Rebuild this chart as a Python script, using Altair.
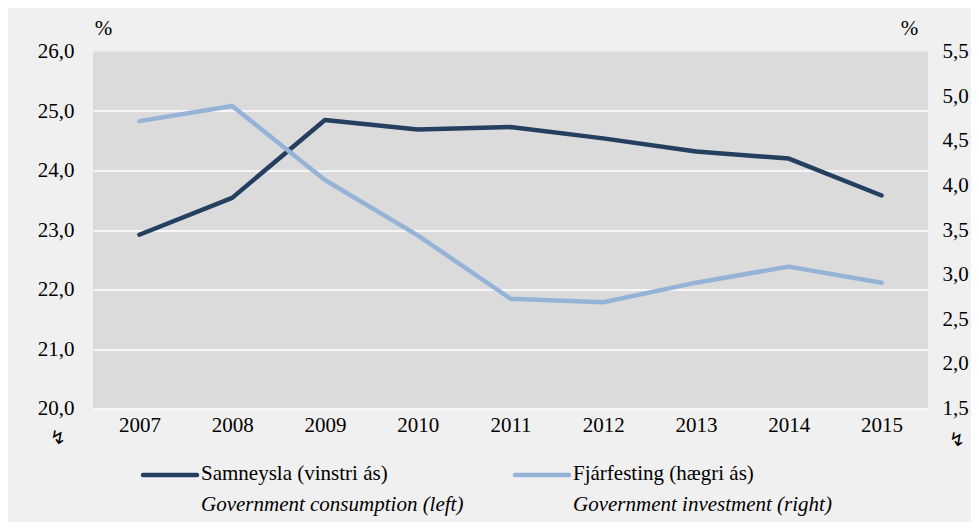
import altair as alt
import pandas as pd

years = ["2007", "2008", "2009", "2010", "2011", "2012", "2013", "2014", "2015"]
consumption = [22.92, 23.54, 24.85, 24.69, 24.73, 24.54, 24.32, 24.20, 23.58]
investment = [4.72, 4.89, 4.06, 3.44, 2.73, 2.69, 2.91, 3.09, 2.91]
left_ticks = [20, 21, 22, 23, 24, 25, 26]
right_ticks = [1.5, 2.0, 2.5, 3.0, 3.5, 4.0, 4.5, 5.0, 5.5]
legend_is = ["Samneysla (vinstri ás)", "Fjárfesting (hægri ás)"]
legend_en = ["Government consumption (left)", "Government investment (right)"]

DARK = "#243f60"
LIGHT = "#95b3d7"
FONT = "Liberation Serif"

df = pd.DataFrame({"year": years, "consumption": consumption, "investment": investment})

x = alt.X("year:O", scale=alt.Scale(type="point", padding=0.5),
          axis=alt.Axis(title=None, labelAngle=0, labelPadding=6))

comma = "replace(format(datum.value, '.1f'), '.', ',')"

left = alt.Chart(df).mark_line(color=DARK, strokeWidth=4.5, strokeCap="round", strokeJoin="round").encode(
    x=x,
    y=alt.Y("consumption:Q",
            scale=alt.Scale(domain=[20, 26], nice=False, zero=False),
            axis=alt.Axis(values=left_ticks, labelExpr=comma, title="%", titleAngle=0,
                          titleX=10, titleY=-23.5, titleAlign="center", titleBaseline="middle",
                          labelPadding=19, grid=True, gridColor="white", gridWidth=1.5,
                          gridOpacity={"condition": {"test": "datum.value == 26", "value": 0}, "value": 1})),
)

right = alt.Chart(df).mark_line(color=LIGHT, strokeWidth=4.5, strokeCap="round", strokeJoin="round").encode(
    x=x,
    y=alt.Y("investment:Q",
            scale=alt.Scale(domain=[1.5, 5.5], nice=False, zero=False),
            axis=alt.Axis(values=right_ticks, labelExpr=comma, orient="right", title="%", titleAngle=0,
                          titleX=-19, titleY=-23.5, titleAlign="center", titleBaseline="middle",
                          labelPadding=14, grid=False)),
)

one = alt.Chart(pd.DataFrame({"k": [0]}))

legend_layers = []
for i, (lx, col) in enumerate([(50, DARK), (422, LIGHT)]):
    legend_layers.append(one.mark_rule(color=col, strokeWidth=4.5, strokeCap="round").encode(
        x=alt.value(lx), x2=alt.value(lx + 54), y=alt.value(423.5)))
    legend_layers.append(one.mark_text(align="left", baseline="middle", font=FONT, fontSize=21, color="black").encode(
        x=alt.value(lx + 58), y=alt.value(422.5), text=alt.value(legend_is[i])))
    legend_layers.append(one.mark_text(align="left", baseline="middle", font=FONT, fontSize=21,
                                       fontStyle="italic", color="black").encode(
        x=alt.value(lx + 58), y=alt.value(453.5), text=alt.value(legend_en[i])))

breaks = [
    one.mark_text(font="DejaVu Sans", fontSize=19, color="black", align="center", baseline="middle").encode(
        x=alt.value(-35), y=alt.value(386.5), text=alt.value("↯")),
    one.mark_text(font="DejaVu Sans", fontSize=19, color="black", align="center", baseline="middle").encode(
        x=alt.value(864), y=alt.value(388.5), text=alt.value("↯")),
]

chart = alt.layer(left, right, *legend_layers, *breaks).resolve_scale(y="independent").properties(
    width=835, height=357,
    padding={"left": 85, "top": 43.5, "right": 43, "bottom": 113.5},
    autosize=alt.AutoSizeParams(type="none"),
    background="#f0f0f0",
).configure_view(fill="#dbdbdb", stroke=None).configure_axis(
    domain=False, ticks=False, labelFont=FONT, labelFontSize=21, labelColor="black",
    titleFont=FONT, titleFontSize=21, titleColor="black", titleFontWeight="normal",
)

chart.save("out.html", embed_options={"renderer": "svg", "actions": False})
